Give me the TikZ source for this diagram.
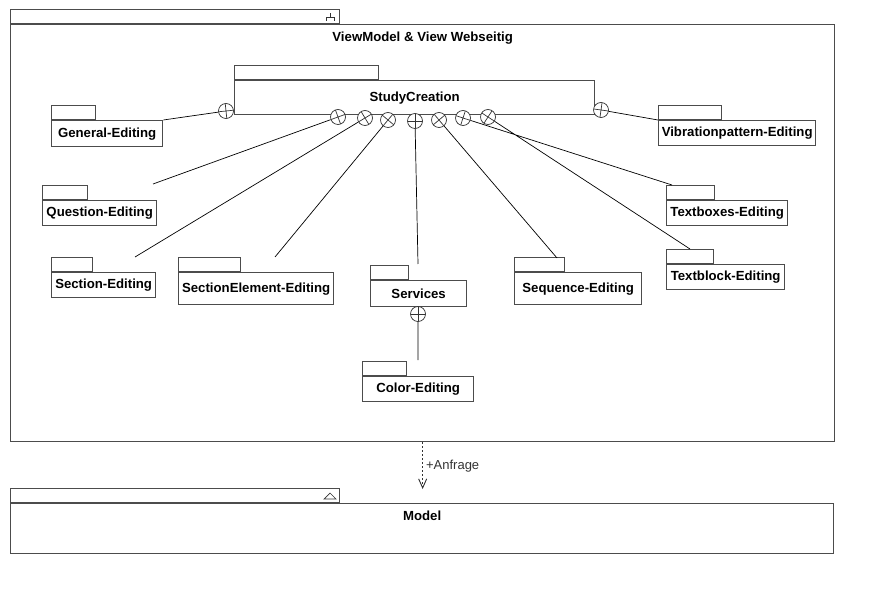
\documentclass[tikz,border=0pt]{standalone}
\usepackage{fontspec}
\setmainfont{Liberation Sans}
\usetikzlibrary{positioning,%
  arrows.meta%
}

\tikzset{
  schrift/.style={font=\bfseries\fontsize{13.2}{15}\selectfont},
  paket/.style={draw=black!70, line width=1.3pt, anchor=north west, inner sep=0pt, schrift},
  reiter/.style={draw=black!70, line width=1.3pt, minimum height=14, inner sep=0pt},
  linie/.style={draw=black, line width=0.7pt},
  kreuz/.style={circle, draw=black!80, line width=0.7pt, fill=white, minimum size=15, inner sep=0pt,
    path picture={\draw[black!80, line width=0.7pt] (path picture bounding box.center)
      +(#1:9) -- +(#1+180:9) +(#1+90:9) -- +(#1+270:9);}}
}

\begin{document}
\begin{tikzpicture}[x=1pt, y=-1pt]
            % Rahmen
            \useasboundingbox[fill=white] (0,0) rectangle (874,593);

            % ViewModel & View
            \node[paket, minimum width=824, minimum height=417,
                  label={[anchor=north, inner sep=0pt, yshift=-8pt, schrift]north:ViewModel \& View Webseitig}] (vm) at (10,24) {};
            \node[reiter, minimum width=329, above right=0pt of vm.north west] (vm-tab) {};
            \draw[black!80, line width=0.8pt] (326,21) -- (326,17) -- (334,17) -- (334,21) (330,17) -- (330,13);

            % Pakete
            \node[paket, minimum width=360, minimum height=34] (sc) at (234,80) {StudyCreation};
            \node[reiter, minimum width=144, above right=0pt of sc.north west] (sc-tab) {};

            \node[paket, minimum width=111, minimum height=26] (gen) at (51,120) {General-Editing};
            \node[reiter, minimum width=44, above right=0pt of gen.north west] (gen-tab) {};
            \node[paket, minimum width=114, minimum height=25] (que) at (42,200) {Question-Editing};
            \node[reiter, minimum width=45, above right=0pt of que.north west] (que-tab) {};
            \node[paket, minimum width=104, minimum height=25] (sec) at (51,272) {Section-Editing};
            \node[reiter, minimum width=41, above right=0pt of sec.north west] (sec-tab) {};
            \node[paket, minimum width=155, minimum height=32] (sel) at (178,272) {SectionElement-Editing};
            \node[reiter, minimum width=62, above right=0pt of sel.north west] (sel-tab) {};
            \node[paket, minimum width=96, minimum height=26] (srv) at (370,280) {Services};
            \node[reiter, minimum width=38, above right=0pt of srv.north west] (srv-tab) {};
            \node[paket, minimum width=127, minimum height=32] (seq) at (514,272) {Sequence-Editing};
            \node[reiter, minimum width=50, above right=0pt of seq.north west] (seq-tab) {};
            \node[paket, minimum width=111, minimum height=25] (col) at (362,376) {Color-Editing};
            \node[reiter, minimum width=44, above right=0pt of col.north west] (col-tab) {};
            \node[paket, minimum width=157, minimum height=25] (vib) at (658,120) {Vibrationpattern-Editing};
            \node[reiter, minimum width=63, above right=0pt of vib.north west] (vib-tab) {};
            \node[paket, minimum width=121, minimum height=25] (tbx) at (666,200) {Textboxes-Editing};
            \node[reiter, minimum width=48, above right=0pt of tbx.north west] (tbx-tab) {};
            \node[paket, minimum width=118, minimum height=25] (tbl) at (666,264) {Textblock-Editing};
            \node[reiter, minimum width=47, above right=0pt of tbl.north west] (tbl-tab) {};

            % Enthaltensein
            \node[kreuz=84] (c-gen) at (226,111) {};
            \node[kreuz=70] (c-que) at (338,117) {};
            \node[kreuz=59] (c-sec) at (365,118) {};
            \node[kreuz=40] (c-sel) at (388,120) {};
            \node[kreuz=0]  (c-srv) at (415,121) {};
            \node[kreuz=50] (c-seq) at (439,120) {};
            \node[kreuz=18] (c-tbx) at (463,118) {};
            \node[kreuz=33] (c-tbl) at (488,117) {};
            \node[kreuz=8]  (c-vib) at (601,110) {};
            \node[kreuz=0]  (c-col) at (418,314) {};

            \coordinate (e-que) at (153,184);
            \coordinate (e-sec) at (135,257);
            \coordinate (e-sel) at (275,257);
            \coordinate (e-srv) at (418,264);
            \coordinate (e-seq) at (557,258);
            \coordinate (e-tbx) at (672,185);
            \coordinate (e-tbl) at (690,249);
            \coordinate (e-col) at (418,360);

            \path[linie] (gen.north east) -- (c-gen)
                    (c-que) -- (e-que)
                    (c-sec) -- (e-sec)
                    (c-sel) -- (e-sel)
                    (c-srv) -- (e-srv)
                    (c-seq) -- (e-seq)
                    (c-tbx) -- (e-tbx)
                    (c-tbl) -- (e-tbl)
                    (c-vib) -- (vib.north west)
                    (c-col) -- (e-col);

            % Model
            \node[paket, minimum width=823, minimum height=50,
                  label={[anchor=north, inner sep=0pt, yshift=-8pt, schrift]north:Model}] (mod) at (10,503) {};
            \node[reiter, minimum width=329, above right=0pt of mod.north west] (mod-tab) {};
            \draw[black!80, line width=0.7pt] (324,499) -- (336,499) -- (330,493) -- cycle;

            % Anfrage
            \coordinate (anf) at (vm.south |- 0,489);
            \draw[black!80, line width=0.9pt, dash pattern=on 2pt off 2pt, -{Straight Barb[length=9pt, width=8pt]}]
                (vm.south) -- node[right, inner sep=3pt, font=\fontsize{13}{15}\selectfont] {+Anfrage} (anf);
        \end{tikzpicture}
\end{document}
